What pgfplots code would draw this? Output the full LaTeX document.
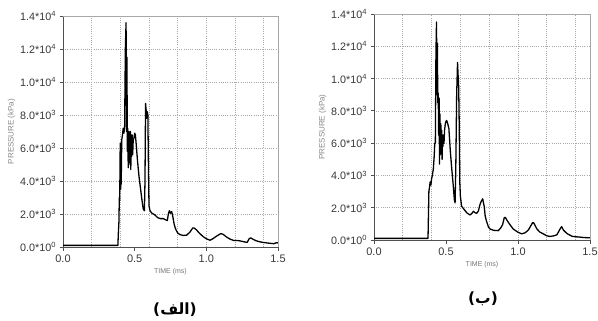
\documentclass[border=0pt]{standalone}
\usepackage{fontspec}
\setmainfont{Liberation Sans}
\newfontfamily\arabicfont[Script=Arabic]{DejaVu Sans}
\TeXXeTstate=1
\usepackage{pgfplots}
\pgfplotsset{compat=1.18}
\definecolor{axdark}{HTML}{505050}
\definecolor{axlight}{HTML}{A8A8A8}
\definecolor{txt}{HTML}{383838}
\pgfplotsset{
  pressax/.style={
    scale only axis,
    xmin=0, xmax=1.5, ymin=0, ymax=14000,
    xtick={0,0.5,1,1.5}, xticklabels={0.0,0.5,1.0,1.5},
    ytick={0,2000,4000,6000,8000,10000,12000,14000},
    yticklabels={0.0*10\textsuperscript{0},2.0*10\textsuperscript{3},4.0*10\textsuperscript{3},6.0*10\textsuperscript{3},8.0*10\textsuperscript{3},1.0*10\textsuperscript{4},1.2*10\textsuperscript{4},1.4*10\textsuperscript{4}},
    minor xtick={0.2,0.4,0.6,0.8,1.0,1.2,1.4},
    xminorgrids, ymajorgrids,
    minor tick length=0pt,
    grid style={axlight, line width=0.7pt, dash pattern=on 1pt off 1.2pt},
    minor grid style={axlight, line width=0.7pt, dash pattern=on 1pt off 1.2pt},
    axis x line*=bottom, axis y line*=left,
    axis line style={axdark, line width=1pt, -},
    tick align=outside, major tick length=3.5bp,
    tick style={axdark, line width=0.8pt},
    scaled y ticks=false,
    tick label style={text=txt},
    yticklabel style={font=\fontsize{10.8}{11}\selectfont, xshift=0bp},
    xticklabel style={font=\fontsize{11}{12}\selectfont, yshift=-1bp},
    xlabel={TIME (ms)}, ylabel={PRESSURE (kPa)},
    xlabel style={font=\fontsize{7}{8}\selectfont, text=txt!70, yshift=1bp},
    ylabel style={font=\fontsize{8}{9}\selectfont, text=txt!60, yshift=-2bp},
    clip=false,
  }
}
\begin{document}
\begin{tikzpicture}[x=1bp,y=1bp]
\path[use as bounding box] (0,0) rectangle (598,320);
% ---------------- left panel ----------------
\begin{axis}[pressax, at={(63bp,73bp)}, anchor=south west, width=215bp, height=231bp]
\addplot[black, line width=1.3pt, line join=round] coordinates {
(0,100) (0.383,100) (0.386,800) (0.390,1500) (0.393,3000) (0.396,2800) (0.398,5500) (0.400,6300) (0.402,3500) (0.404,6200) (0.406,3800) (0.410,6500) (0.415,6800) (0.420,7200) (0.425,6900) (0.430,7300) (0.435,12000) (0.440,13600) (0.443,7000) (0.446,11500) (0.449,5800) (0.452,7200) (0.455,4800) (0.458,7000) (0.461,5000) (0.464,6800) (0.467,5200) (0.470,7000) (0.473,4700) (0.476,6500) (0.479,5500) (0.482,6800) (0.486,5600) (0.490,6500) (0.495,6600) (0.500,6900) (0.505,6800) (0.510,6300) (0.520,5200) (0.530,4300) (0.540,3600) (0.550,2900) (0.560,2300) (0.568,2200) (0.572,4000) (0.576,8700) (0.580,8300) (0.584,7800) (0.588,8200) (0.592,8000) (0.596,5000) (0.600,2500) (0.607,2200) (0.620,2050) (0.640,1950) (0.660,1780) (0.680,1720) (0.700,1720) (0.715,1650) (0.728,1600) (0.735,2000) (0.742,2200) (0.750,2050) (0.758,2150) (0.765,1900) (0.775,1400) (0.785,1100) (0.800,850) (0.816,750) (0.840,700) (0.863,720) (0.885,900) (0.905,1150) (0.915,1150) (0.930,1050) (0.950,850) (0.979,620) (1.000,500) (1.026,410) (1.045,500) (1.070,650) (1.100,810) (1.115,780) (1.142,600) (1.165,480) (1.190,400) (1.210,400) (1.235,370) (1.260,320) (1.285,280) (1.300,520) (1.310,550) (1.330,450) (1.350,370) (1.380,300) (1.420,250) (1.450,220) (1.470,200) (1.490,260) (1.500,250)
};
\draw[axlight, line width=1pt] (rel axis cs:0,1) -- (rel axis cs:1,1) -- (rel axis cs:1,0);
\end{axis}
% ---------------- right panel ----------------
\begin{axis}[pressax, at={(374bp,80bp)}, anchor=south west, width=216bp, height=226bp]
\addplot[black, line width=1.3pt, line join=round] coordinates {
(0,100) (0.375,100) (0.378,1500) (0.381,3000) (0.386,3300) (0.390,3600) (0.395,3400) (0.400,3800) (0.405,4000) (0.412,4400) (0.418,5200) (0.422,6000) (0.426,6000) (0.430,11500) (0.434,13500) (0.437,9000) (0.440,12200) (0.443,8500) (0.446,9100) (0.449,6500) (0.452,8800) (0.455,4700) (0.458,7800) (0.461,5300) (0.464,7200) (0.467,5600) (0.470,6800) (0.473,5000) (0.476,6500) (0.479,5800) (0.482,6500) (0.486,6000) (0.490,6800) (0.495,7200) (0.500,7350) (0.505,7400) (0.512,7200) (0.520,6900) (0.530,5500) (0.540,4400) (0.550,3400) (0.558,2500) (0.563,2300) (0.568,4500) (0.574,9000) (0.580,11000) (0.584,10200) (0.588,9500) (0.592,7000) (0.596,3500) (0.600,2700) (0.608,2100) (0.625,1900) (0.645,1680) (0.667,1550) (0.680,1650) (0.690,1780) (0.700,1700) (0.713,1650) (0.725,1800) (0.736,2200) (0.745,2400) (0.755,2550) (0.760,2300) (0.765,2100) (0.772,1500) (0.780,1200) (0.795,800) (0.806,680) (0.830,600) (0.863,580) (0.880,750) (0.893,950) (0.905,1400) (0.912,1400) (0.925,1200) (0.940,1000) (0.967,680) (1.000,480) (1.026,380) (1.050,450) (1.072,620) (1.090,900) (1.102,1080) (1.110,1050) (1.130,700) (1.150,500) (1.176,380) (1.200,260) (1.222,220) (1.250,260) (1.270,320) (1.290,650) (1.303,830) (1.315,620) (1.340,400) (1.375,230) (1.400,200) (1.430,180) (1.460,150) (1.500,140)
};
\draw[axlight, line width=1pt] (rel axis cs:0,1) -- (rel axis cs:1,1) -- (rel axis cs:1,0);
\end{axis}
% ---------------- panel captions ----------------
\node[font=\arabicfont\bfseries\fontsize{15.5}{17}\selectfont] at (175,10) {\beginR(الف)\endR};
\node[font=\arabicfont\bfseries\fontsize{15.5}{17}\selectfont] at (483,21) {\beginR(ب)\endR};
\end{tikzpicture}
\end{document}
